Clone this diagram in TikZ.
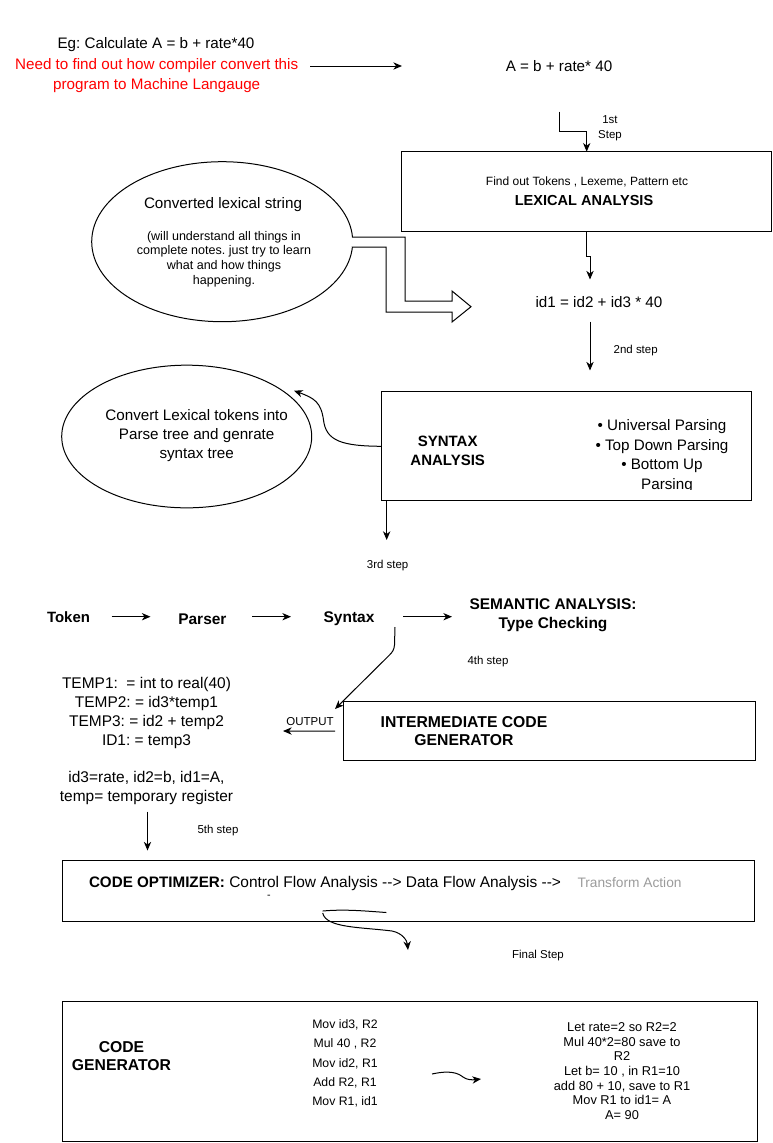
\documentclass[tikz,border=0pt]{standalone}
\usepackage{fontspec}
\setmainfont{Liberation Sans}
\usetikzlibrary{arrows.meta,shapes.geometric}
\definecolor{redtxt}{RGB}{255,0,0}
\definecolor{graytxt}{RGB}{155,155,155}
\frenchspacing
\begin{document}
\begin{tikzpicture}[x=0.75pt,y=-0.75pt,line width=0.75pt,
  every node/.style={inner sep=0pt,outer sep=0pt,align=center},
  fs/.style n args={2}{font=\fontsize{#1}{#2}\selectfont},
  big/.style={fs={11.4pt}{15pt}},
  bigb/.style={font=\bfseries\fontsize{11.6pt}{14.5pt}\selectfont},
  note/.style={fs={8.6pt}{11.25pt}},
  box/.style={draw,rectangle,line width=0.75pt},
  arr/.style={-{Stealth[length=6.5pt,width=5.5pt,inset=2pt]},line width=0.75pt},
]
\useasboundingbox (0,0) rectangle (773,1143);

% ---------- top ----------
\node[big] (eg) at (156,45) {Eg: Calculate A = b + rate*40};
\node[big,text=redtxt] (need) at (156.7,75.5) {Need to find out how compiler convert this\\program to Machine Langauge};
\node[big] (expr) at (559,66) {A = b + rate* 40};
\coordinate (c1s) at (310,66);
\coordinate (c1e) at (402,66);
\draw[arr] (c1s) -- (c1e);

% step 1
\node[box,minimum width=277.5pt,minimum height=59.5pt] (lex) at (586.7,191.35) {};
\coordinate (s1) at (559.3,111.7);
\draw[arr] (s1) -- (559.3,131.7) -| (lex.north);
\node[note] (st1) at (610,128.2) {1st\\Step};
\node[fs={9pt}{11pt}] (lexsub) at (587,182.3) {Find out Tokens , Lexeme, Pattern etc};
\node[font=\bfseries\fontsize{10.9pt}{13pt}\selectfont] (lext) at (584,200) {LEXICAL ANALYSIS};

% id1
\node[big] (id1) at (599,302.3) {id1 = id2 + id3 * 40};
\coordinate (s2a) at (590,256.7);
\coordinate (s2b) at (590,279.5);
\draw[arr] (lex.south) |- (s2a) -- (s2b);
\coordinate (s3a) at (590,321.7);
\coordinate (s3b) at (590,370.5);
\draw[arr] (s3a) -- (s3b);
\node[note] (st2) at (635.7,351) {2nd step};

% ellipse 1
\node[draw,ellipse,minimum width=195.75pt,minimum height=120pt] (ell1) at (222.2,241.7) {};
\node[big] (ell1t) at (223,205) {Converted lexical string};
\node[fs={9.4pt}{10.9pt}] (ell1n) at (224,259) {(will understand all things in\\complete notes. just try to learn\\what and how things\\happening.};
% block arrow
\draw[line width=0.75pt,fill=white] (352,237) -- (405,237) -- (405,301) -- (452,301) -- (452,291) -- (471,306.7) -- (452,322) -- (452,312) -- (386,312) -- (386,247) -- (352,247);

% syntax analysis
\node[box,minimum width=277.3pt,minimum height=82pt] (syn) at (566.2,446.3) {};
\node[font=\bfseries\fontsize{11.25pt}{14.5pt}\selectfont] (synt) at (447.7,450.5) {SYNTAX\\ANALYSIS};
\begin{scope}
\clip (381.3,392) rectangle (751,489);
\node[fs={11.4pt}{14.6pt}] (bul) at (662,456) {\textbullet\ Universal Parsing\\\textbullet\ Top Down Parsing\\\textbullet\ Bottom Up\\\hspace*{7.5pt}Parsing};
\end{scope}

% ellipse 2
\node[draw,ellipse,minimum width=187.5pt,minimum height=107pt] (ell2) at (186.7,436.5) {};
\node[big,fs={11.4pt}{14.4pt}] (ell2t) at (196.7,435.8) {Convert Lexical tokens into\\Parse tree and genrate\\syntax tree};
\coordinate (e2tip) at (294,390.7);
\draw[arr] (syn.west) .. controls (342,446) and (326,441) .. (323.5,420) .. controls (321,402) and (314,398) .. (e2tip);

% 3rd step
\draw[arr] ([xshift=4pt]syn.south west) -- ++(0,39);
\node[note] (st3) at (387.6,566) {3rd step};

% token row
\node[bigb,font=\bfseries\fontsize{11.2pt}{14.5pt}\selectfont] (tok) at (68.5,616.7) {Token};
\node[bigb] (par) at (202.4,619) {Parser};
\node[bigb] (sx) at (349,619) {Syntax};
\node[bigb] (sem) at (553,615.5) {SEMANTIC ANALYSIS:\\Type Checking};
\coordinate (r1a) at (111.7,616.7); \coordinate (r1b) at (150.5,616.7);
\coordinate (r2a) at (252,616.7); \coordinate (r2b) at (291,616.7);
\coordinate (r3a) at (403,616.7); \coordinate (r3b) at (452,616.7);
\draw[arr] (r1a) -- (r1b);
\draw[arr] (r2a) -- (r2b);
\draw[arr] (r3a) -- (r3b);
\node[note] (st4) at (488,661.5) {4th step};

% intermediate code generator
\node[box,minimum width=309pt,minimum height=44.25pt] (icg) at (549,731.2) {};
\node[font=\bfseries\fontsize{11.8pt}{14pt}\selectfont] (icgt) at (464,731) {INTERMEDIATE CODE\\GENERATOR};
\coordinate (sx1) at (395,627);
\coordinate (sx2) at (335,709);
\draw[arr] (sx1) -- (394.5,645) .. controls (394,650) and (392.5,652) .. (389,655.5) -- (sx2);
\node[fs={8.6pt}{10pt}] (out) at (310,721.7) {OUTPUT};
\coordinate (oute) at (283,731);
\draw[arr] ([xshift=-6pt]icg.west) -- (oute);

\node[fs={11.6pt}{14.25pt}] (temp) at (146.5,713.3) {TEMP1:\ \ = int to real(40)\\TEMP2: = id3*temp1\\TEMP3: = id2 + temp2\\ID1: = temp3};
\node[fs={11.6pt}{14.6pt}] (leg) at (146.5,788) {id3=rate, id2=b, id1=A,\\temp= temporary register};
\coordinate (s5a) at (147.5,811.7);
\coordinate (s5b) at (147.5,850.5);
\draw[arr] (s5a) -- (s5b);
\node[note] (st5) at (218,831) {5th step};

% code optimizer
\node[box,minimum width=519pt,minimum height=45.75pt] (opt) at (408,890.5) {};
\node[anchor=west,fs={11.6pt}{14pt}] (optt) at (89,883) {{\bfseries\fontsize{11.4pt}{14pt}\selectfont CODE OPTIMIZER:} Control Flow Analysis -{}-{}> Data Flow Analysis -{}-{}>};
\node[anchor=west,fs={10.3pt}{12pt},text=graytxt] (tra) at (577.5,883) {Transform Action};
\node[fs={8pt}{9pt}] (dsh) at (269,896.5) {-};
\draw (322.7,911) .. controls (345,909) and (365,911) .. (386.4,912.5);
\coordinate (f1) at (322.7,913);
\coordinate (f2) at (408,950);
\draw[arr] (f1) .. controls (326,928) and (360,927) .. (392,931) .. controls (402,933) and (407,940) .. (f2);
\node[note] (fin) at (538,956) {Final Step};

% code generator
\node[box,minimum width=521.25pt,minimum height=105pt] (cg) at (409.5,1071) {};
\node[font=\bfseries\fontsize{11.8pt}{13.5pt}\selectfont] (cgt) at (121.5,1056) {CODE\\GENERATOR};
\node[fs={9.2pt}{14.4pt}] (code) at (345,1063.5) {Mov id3, R2\\Mul 40 , R2\\Mov id2, R1\\Add R2, R1\\Mov R1, id1};
\coordinate (g1) at (432,1074);
\coordinate (g2) at (481,1079);
\draw[arr] (g1) .. controls (450,1070) and (458,1073) .. (463,1077) .. controls (467,1080) and (472,1080) .. (g2);
\node[fs={9.6pt}{11pt}] (expl) at (622,1071) {Let rate=2 so R2=2\\Mul 40*2=80 save to\\R2\\Let b= 10 , in R1=10\\add 80 + 10, save to R1\\Mov R1 to id1= A\\A= 90};
\end{tikzpicture}
\end{document}
